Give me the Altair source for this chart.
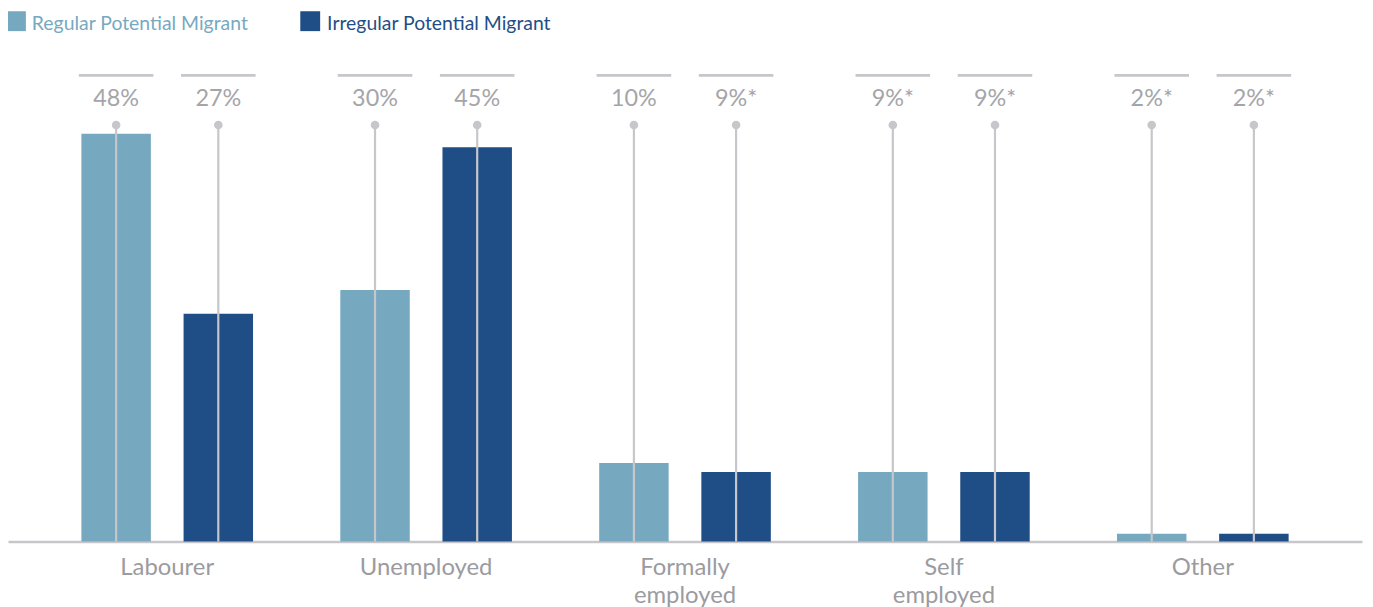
import altair as alt
import pandas as pd

categories = ["Labourer", "Unemployed", "Formally employed", "Self employed", "Other"]
series = ["Regular Potential Migrant", "Irregular Potential Migrant"]
regular_values = [48.0, 29.6, 9.25, 8.2, 0.94]
irregular_values = [26.8, 46.4, 8.2, 8.2, 0.94]
regular_labels = ["48%", "30%", "10%", "9%*", "2%*"]
irregular_labels = ["27%", "45%", "9%*", "9%*", "2%*"]
colors = ["#76A9BF", "#1F4E87"]

rows = []
for i, c in enumerate(categories):
    rows.append({"category": c, "series": series[0], "value": regular_values[i], "label": regular_labels[i]})
    rows.append({"category": c, "series": series[1], "value": irregular_values[i], "label": irregular_labels[i]})
df = pd.DataFrame(rows)

GRAY = "#C6C6CB"

x = alt.X(
    "category:N",
    sort=categories,
    scale=alt.Scale(paddingInner=0, paddingOuter=0.115),
    axis=alt.Axis(
        title=None,
        labelExpr="split(datum.label, ' ')",
        ticks=False,
        domainColor=GRAY,
        domainWidth=2.5,
        labelColor="#9B9BA0",
        labelFont="Lato",
        labelFontSize=24,
        labelLineHeight=28,
        labelPadding=14,
        labelAngle=0,
        grid=False,
    ),
)
xo = alt.XOffset("series:N", sort=series, scale=alt.Scale(paddingInner=0.32, paddingOuter=0.427))
y = alt.Y("value:Q", scale=alt.Scale(domain=[0, 56.5]), axis=None)
color = alt.Color("series:N", sort=series, scale=alt.Scale(domain=series, range=colors), legend=None)

base = alt.Chart(df)

bars = base.mark_bar().encode(x=x, xOffset=xo, y=y, color=color)
top_line = base.mark_bar(color=GRAY, width=75).encode(
    x=x, xOffset=xo, y=alt.value(12.5), y2=alt.value(15.5)
)
labels = base.mark_text(font="Lato", fontSize=23.5, color="#A5A5A9", baseline="middle").encode(
    x=x, xOffset=xo, y=alt.value(37.5), text="label:N"
)
rule = base.mark_rule(color=GRAY, strokeWidth=2.2).encode(
    x=x, xOffset=xo, y=alt.value(64), y2=alt.value(483)
)
dot = base.mark_circle(size=75, color=GRAY, opacity=1).encode(x=x, xOffset=xo, y=alt.value(64))

legend_layers = []
sq_x = [8, 304]
tx_x = [24, 321]
for i, s in enumerate(series):
    ldf = pd.DataFrame({"series": [s]})
    legend_layers.append(
        alt.Chart(ldf).mark_square(size=400, color=colors[i], opacity=1).encode(
            x=alt.value(sq_x[i]), y=alt.value(-40.5)
        )
    )
    legend_layers.append(
        alt.Chart(ldf).mark_text(align="left", baseline="middle", font="Lato", fontSize=19.5, color=colors[i]).encode(
            x=alt.value(tx_x[i]), y=alt.value(-38), text="series:N"
        )
    )

chart = alt.layer(bars, top_line, labels, rule, dot, *legend_layers).properties(
    width=1362,
    height=483,
    autosize=alt.AutoSizeParams(type="none"),
    padding={"left": 0, "top": 52, "right": 3, "bottom": 64},
).configure_view(stroke=None)

chart.save("out.html", embed_options={"renderer": "svg", "actions": False})
